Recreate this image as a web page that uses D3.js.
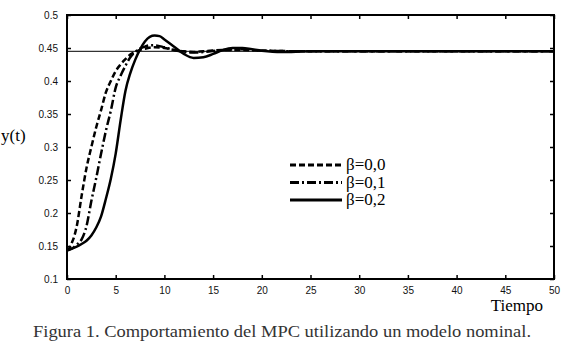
<!DOCTYPE html>
<html>
<head>
<meta charset="utf-8">
<script src="https://cdn.jsdelivr.net/npm/d3@7"></script>
<style>
  body { margin: 0; background: #fff; }
  svg { display: block; }
  .serif { font-family: "Liberation Serif", "Times New Roman", serif; font-weight: normal; }
  .sans { font-family: "Liberation Sans", Arial, sans-serif; }
</style>
</head>
<body>
<div id="chart"></div>
<script>
// datos
const tiempo0 = [0, 0.25, 0.5, 0.75, 1, 1.5, 2, 2.5, 3, 3.5, 4, 4.5, 5, 5.5, 6, 6.5, 7, 7.5, 8, 9, 10, 11, 12, 13, 14, 16, 18, 20, 25, 30, 40, 50];
const beta00 = [0.143, 0.147, 0.155, 0.165, 0.18, 0.226, 0.268, 0.3, 0.33, 0.356, 0.383, 0.4, 0.415, 0.425, 0.433, 0.44, 0.444, 0.447, 0.449, 0.451, 0.45, 0.447, 0.445, 0.444, 0.445, 0.447, 0.447, 0.446, 0.445, 0.445, 0.445, 0.445];

const tiempo1 = [0, 0.5, 1, 1.5, 2, 2.5, 3, 3.5, 4, 4.5, 5, 5.5, 6, 6.5, 7, 7.5, 8, 8.5, 9, 10, 11, 12, 13, 14, 16, 18, 20, 25, 30, 40, 50];
const beta01 = [0.143, 0.146, 0.152, 0.16, 0.18, 0.218, 0.253, 0.29, 0.325, 0.355, 0.39, 0.408, 0.423, 0.436, 0.444, 0.449, 0.452, 0.454, 0.454, 0.451, 0.447, 0.444, 0.443, 0.444, 0.447, 0.448, 0.446, 0.445, 0.445, 0.445, 0.445];

const tiempo2 = [0, 0.5, 1, 1.5, 2, 2.5, 3, 3.5, 4, 4.5, 5, 5.5, 6, 6.5, 7, 7.5, 8, 8.5, 9, 9.5, 10, 11, 12, 13, 14, 15, 16, 17, 18, 19, 20, 22, 25, 30, 40, 50];
const beta02 = [0.145, 0.146, 0.149, 0.153, 0.158, 0.166, 0.178, 0.195, 0.222, 0.252, 0.29, 0.34, 0.385, 0.412, 0.432, 0.448, 0.46, 0.467, 0.469, 0.468, 0.463, 0.452, 0.441, 0.435, 0.436, 0.441, 0.447, 0.45, 0.45, 0.448, 0.446, 0.444, 0.445, 0.445, 0.445, 0.445];

const referencia = 0.445;
const etiquetas = ["\u03b2=0,0", "\u03b2=0,1", "\u03b2=0,2"];
const xTicks = [0, 5, 10, 15, 20, 25, 30, 35, 40, 45, 50];
const yTicks = [0.1, 0.15, 0.2, 0.25, 0.3, 0.35, 0.4, 0.45, 0.5];

const width = 564, height = 346;
const margin = { top: 15, right: 10, bottom: 67, left: 67 };

const svg = d3.select("#chart").append("svg")
    .attr("width", width)
    .attr("height", height);

const x = d3.scaleLinear().domain([0, 50]).range([margin.left, width - margin.right]);
const y = d3.scaleLinear().domain([0.1, 0.5]).range([height - margin.bottom, margin.top]);

// ejes (ticks hacia adentro)
function estilo(g, labels) {
    g.select(".domain").remove();
    g.selectAll(".tick line").attr("stroke", "#000").attr("stroke-width", 1.5);
    g.selectAll(".tick text").attr("class", "sans").attr("font-size", 10).attr("fill", "#111");
    if (!labels) g.selectAll(".tick text").remove();
}

svg.append("g")
    .attr("transform", `translate(0,${y(0.1)})`)
    .call(d3.axisBottom(x).tickValues(xTicks).tickSizeInner(-4).tickSizeOuter(0).tickPadding(8).tickFormat(d3.format("d")))
    .call(g => estilo(g, true));

svg.append("g")
    .attr("transform", `translate(0,${y(0.5)})`)
    .call(d3.axisTop(x).tickValues(xTicks).tickSizeInner(-4).tickSizeOuter(0))
    .call(g => estilo(g, false));

svg.append("g")
    .attr("transform", `translate(${x(0)},0)`)
    .call(d3.axisLeft(y).tickValues(yTicks).tickSizeInner(-4).tickSizeOuter(0).tickPadding(9).tickFormat(d => String(d)))
    .call(g => estilo(g, true));

svg.append("g")
    .attr("transform", `translate(${x(50)},0)`)
    .call(d3.axisRight(y).tickValues(yTicks).tickSizeInner(-4).tickSizeOuter(0))
    .call(g => estilo(g, false));

svg.append("rect")
    .attr("x", x(0)).attr("y", y(0.5))
    .attr("width", x(50) - x(0)).attr("height", y(0.1) - y(0.5))
    .attr("fill", "none").attr("stroke", "#000").attr("stroke-width", 2);

// linea de referencia
svg.append("line")
    .attr("x1", x(0)).attr("x2", x(50))
    .attr("y1", y(referencia)).attr("y2", y(referencia))
    .attr("stroke", "#000").attr("stroke-width", 1);

const linea = d3.line()
    .x(d => x(d[0]))
    .y(d => y(d[1]))
    .curve(d3.curveMonotoneX);

const series = [
    { t: tiempo0, v: beta00, dash: "6,3" },
    { t: tiempo1, v: beta01, dash: "9,3,2,3" },
    { t: tiempo2, v: beta02, dash: null }
];

series.forEach(s => {
    svg.append("path")
        .datum(s.t.map((t, i) => [t, s.v[i]]))
        .attr("fill", "none")
        .attr("stroke", "#000")
        .attr("stroke-width", 2.5)
        .attr("stroke-dasharray", s.dash)
        .attr("d", linea);
});

// leyenda
const leyenda = svg.append("g");
series.forEach((s, i) => {
    const yy = 165 + i * 17.5;
    leyenda.append("line")
        .attr("x1", 290).attr("x2", 342)
        .attr("y1", yy).attr("y2", yy)
        .attr("stroke", "#000").attr("stroke-width", 3)
        .attr("stroke-dasharray", s.dash);
    leyenda.append("text")
        .attr("class", "serif")
        .attr("x", 346).attr("y", yy + 5)
        .style("font-size", "17px")
        .text(etiquetas[i]);
});

// titulos
svg.append("text")
    .attr("class", "serif")
    .attr("x", 1).attr("y", 141)
    .style("font-size", "17px")
    .text("y(t)");

svg.append("text")
    .attr("class", "serif")
    .attr("x", 543).attr("y", 311)
    .attr("text-anchor", "end")
    .style("font-size", "17px")
    .text("Tiempo");

svg.append("text")
    .attr("class", "serif")
    .attr("x", 33).attr("y", 337)
    .attr("textLength", 498)
    .attr("lengthAdjust", "spacingAndGlyphs")
    .style("font-size", "16px")
    .attr("fill", "#333")
    .text("Figura 1. Comportamiento del MPC utilizando un modelo nominal.");
</script>
</body>
</html>
